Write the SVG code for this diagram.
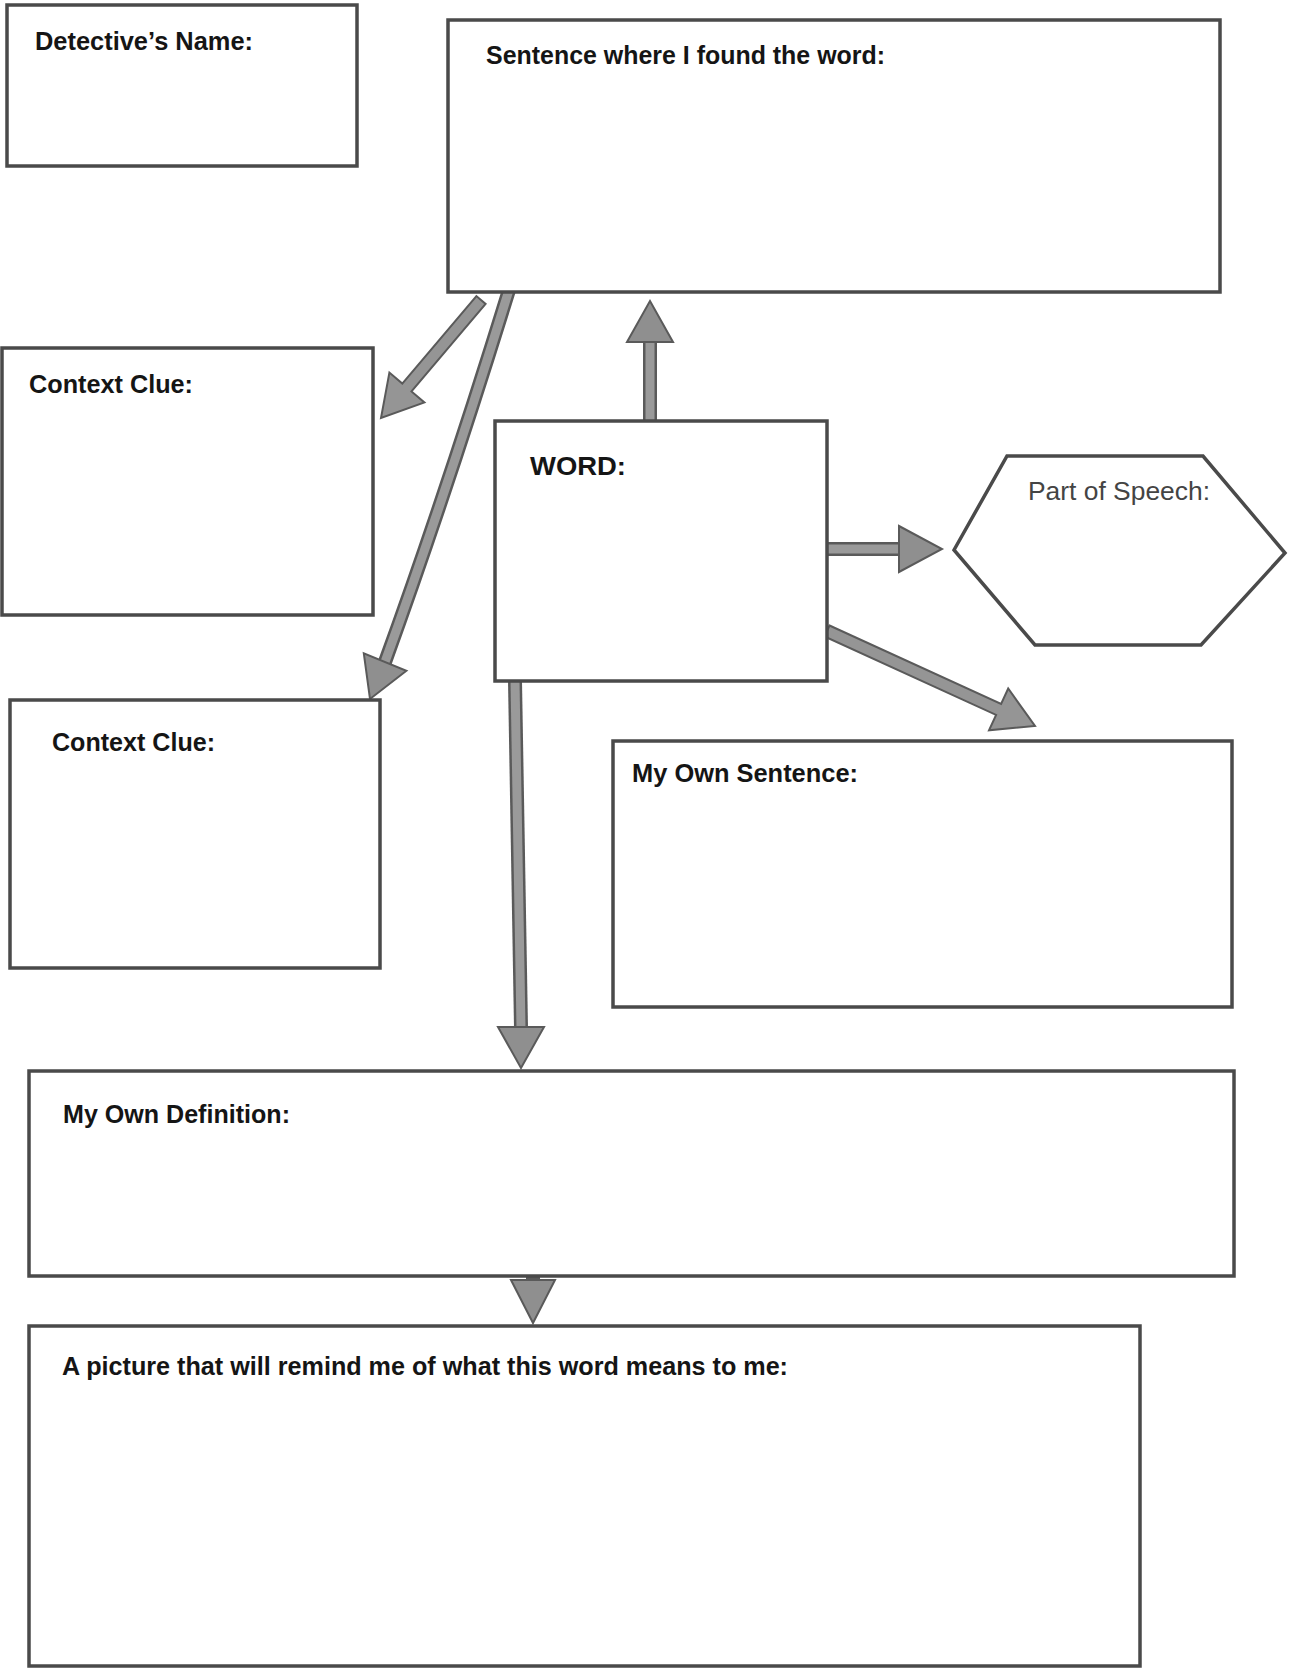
<svg xmlns="http://www.w3.org/2000/svg" width="1290" height="1669" viewBox="0 0 1290 1669">
<defs>
<style>
.box{fill:#fff;stroke:#4a4a4a;stroke-width:3.5}
.lbl{font-family:"Liberation Sans",Arial,sans-serif;font-weight:bold;font-size:25px;fill:#151515}
.lbl2{font-family:"Liberation Sans",Arial,sans-serif;font-size:25px;fill:#444}
.shaftO{fill:none;stroke:#5a5a5a;stroke-width:14;stroke-linecap:butt}
.shaftI{fill:none;stroke:#9a9a9a;stroke-width:9;stroke-linecap:butt}
.head{fill:#8f8f8f;stroke:#5a5a5a;stroke-width:2;stroke-linejoin:miter}
.poly{fill:#959595;stroke:#5a5a5a;stroke-width:2}
</style>
</defs>
<rect width="1290" height="1669" fill="#fff"/>

<g id="connectors">
  <!-- sentence -> context clue 1 -->
  <polygon class="poly" points="476.4,296.1 402.3,383.6 389.4,372.6 381,418 424.4,402.4 411.5,391.4 485.6,303.9"/>
  <!-- sentence -> context clue 2 (slightly curved) -->
  <path class="shaftO" d="M509,290 Q446,494 385,662"/>
  <path class="shaftI" d="M509,290 Q446,494 385,662"/>
  <polygon class="head" points="406.4,670.7 370,699 363.8,653.3"/>
  <!-- word -> sentence (up) -->
  <path class="shaftO" d="M650,420 L650,341"/>
  <path class="shaftI" d="M650,420 L650,341"/>
  <polygon class="head" points="627,342 650,301 673,342"/>
  <!-- word -> part of speech -->
  <path class="shaftO" d="M827,549 L900,549"/>
  <path class="shaftI" d="M827,549 L900,549"/>
  <polygon class="head" points="899,526 942,549 899,572"/>
  <!-- word -> my own sentence -->
  <polygon class="poly" points="829.5,625.5 1001.1,703.9 1008.2,688.5 1035,726 989,730.3 996.1,714.9 824.5,636.5"/>
  <!-- word -> definition -->
  <path class="shaftO" d="M515,681 L521,1028"/>
  <path class="shaftI" d="M515,681 L521,1028"/>
  <polygon class="head" points="498,1027 521,1068 544,1027"/>
  <!-- definition -> picture -->
  <path class="shaftO" d="M533,1276 L533,1281"/>
  <polygon class="head" points="511,1280 533,1323 555,1280"/>
</g>

<g id="detective-name">
  <rect class="box" x="7" y="5" width="350" height="161"/>
  <text class="lbl" x="35" y="50" textLength="218" lengthAdjust="spacingAndGlyphs">Detective’s Name:</text>
</g>

<g id="sentence">
  <rect class="box" x="448" y="20" width="772" height="272"/>
  <text class="lbl" x="486" y="64" textLength="399" lengthAdjust="spacingAndGlyphs">Sentence where I found the word:</text>
</g>

<g id="context-clue-1">
  <rect class="box" x="2" y="348" width="371" height="267"/>
  <text class="lbl" x="29" y="393" textLength="164" lengthAdjust="spacingAndGlyphs">Context Clue:</text>
</g>

<g id="word">
  <rect class="box" x="495" y="421" width="332" height="260"/>
  <text class="lbl" x="530" y="475" textLength="96" lengthAdjust="spacingAndGlyphs">WORD:</text>
</g>

<g id="part-of-speech">
  <polygon class="box" points="954,550 1007,456 1203,456 1285,553 1201,645 1035,645"/>
  <text class="lbl2" x="1028" y="500" textLength="182" lengthAdjust="spacingAndGlyphs">Part of Speech:</text>
</g>

<g id="context-clue-2">
  <rect class="box" x="10" y="700" width="370" height="268"/>
  <text class="lbl" x="52" y="751" textLength="163" lengthAdjust="spacingAndGlyphs">Context Clue:</text>
</g>

<g id="my-own-sentence">
  <rect class="box" x="613" y="741" width="619" height="266"/>
  <text class="lbl" x="632" y="782" textLength="226" lengthAdjust="spacingAndGlyphs">My Own Sentence:</text>
</g>

<g id="my-own-definition">
  <rect class="box" x="29" y="1071" width="1205" height="205"/>
  <text class="lbl" x="63" y="1123" textLength="227" lengthAdjust="spacingAndGlyphs">My Own Definition:</text>
</g>

<g id="picture">
  <rect class="box" x="29" y="1326" width="1111" height="340"/>
  <text class="lbl" x="62" y="1375" textLength="726" lengthAdjust="spacingAndGlyphs">A picture that will remind me of what this word means to me:</text>
</g>
</svg>
